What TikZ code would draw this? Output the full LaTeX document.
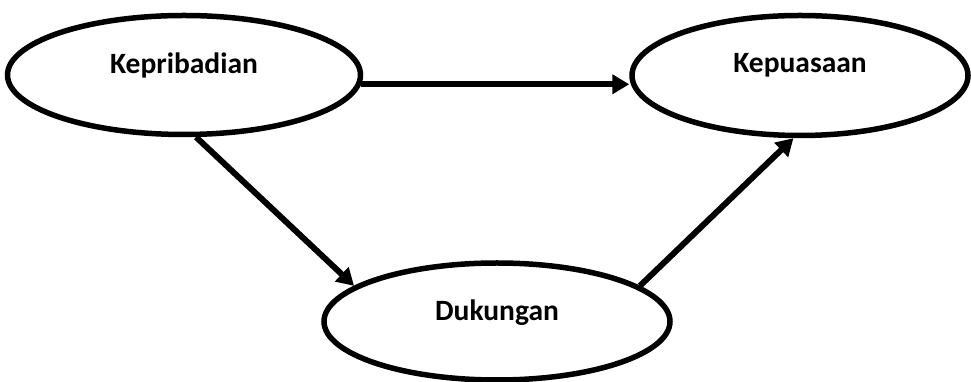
\documentclass[tikz,border=0pt]{standalone}
\usepackage{fontspec}
\setmainfont{Carlito}
\usetikzlibrary{arrows.meta, shapes.geometric}

\begin{document}
\begin{tikzpicture}[x=1pt, y=1pt,
	var/.style={ellipse, draw, line width=5.5pt, inner sep=0pt},
	lbl/.style={font=\fontsize{29.5}{35}\selectfont\bfseries},
	arr/.style={line width=6pt, -{Triangle[length=17pt, width=19pt]}}]

	\useasboundingbox (0,0) rectangle (971,382);

	\node[var, minimum width=353pt, minimum height=119pt] (kpb) at (184,307) {};
	\node[var, minimum width=336pt, minimum height=120pt] (kps) at (800,306.5) {};
	\node[var, minimum width=346pt, minimum height=117pt] (duk) at (497,60.5) {};

	\node[lbl] (kpbtext) at ([yshift=10pt]kpb.center) {Kepribadian};
	\node[lbl] (kpstext) at ([yshift=10pt]kps.center) {Kepuasaan};
	\node[lbl] (duktext) at ([yshift=9pt]duk.center) {Dukungan};

	\path[arr]
	(kpb.-3) edge (kpb.-3 -| kps.west)
	(kpb.-79) edge (duk.166)
	(duk.14) edge (kps.-96);
\end{tikzpicture}
\end{document}
